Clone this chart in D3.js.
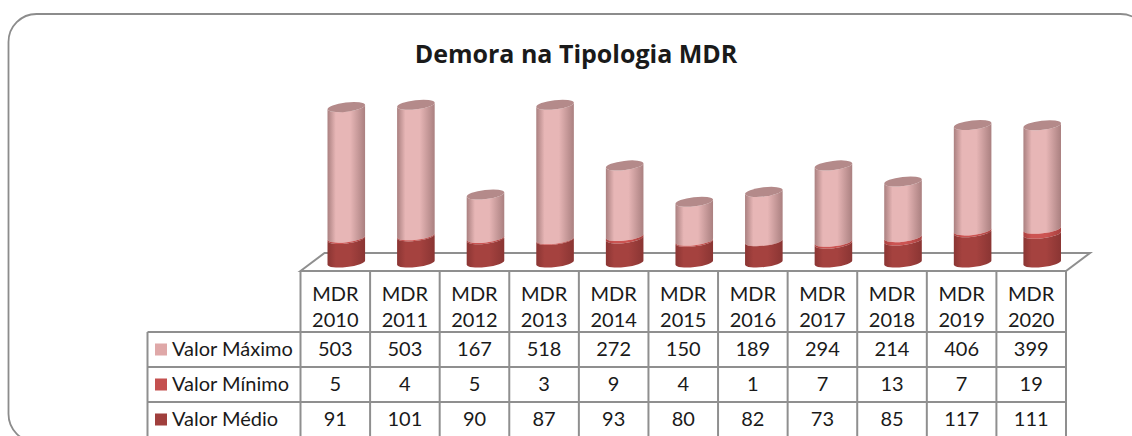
<!DOCTYPE html>
<html><head><meta charset="utf-8">
<script src="https://cdn.jsdelivr.net/npm/d3@7"></script>
<style>html,body{margin:0;padding:0;background:#fff;overflow:hidden}svg{display:block}text{font-family:Lato,"Open Sans",sans-serif;fill:#1a1a1a}</style>
</head><body><svg id="c" width="1132" height="436"></svg>
<script>
const categories=["MDR 2010","MDR 2011","MDR 2012","MDR 2013","MDR 2014","MDR 2015","MDR 2016","MDR 2017","MDR 2018","MDR 2019","MDR 2020"];
const valorMaximo=[503,503,167,518,272,150,189,294,214,406,399];
const valorMinimo=[5,4,5,3,9,4,1,7,13,7,19];
const valorMedio=[91,101,90,87,93,80,82,73,85,117,111];
const seriesNames=["Valor Máximo","Valor Mínimo","Valor Médio"];
const legendColors=["#dfa8a8","#c4504f","#a03f3d"];
const title="Demora na Tipologia MDR";

const svg=d3.select("#c");
// frame
svg.append("rect").attr("x",8.5).attr("y",14).attr("width",1140).attr("height",428).attr("rx",28).attr("ry",28)
  .attr("fill","none").attr("stroke","#8c8c8c").attr("stroke-width",1.8);
svg.append("text").attr("x",576).attr("y",63).attr("text-anchor","middle").attr("font-size",25).attr("font-weight",700).attr("fill","#111")
  .style("font-family","'Open Sans',sans-serif").text(title);

const x=d3.scaleBand().domain(categories).range([300.5,1066]);
const y=d3.scaleLinear().domain([0,700]).range([262.5,262.5-700*0.2595]);
const rowY=d3.scaleBand().domain(seriesNames).range([332,437]);
const grid="#8f8f8f";
const g=svg.append("g");
// floor
const fx0=300.5,fx1=1066,fy0=271,fdx=24,fdy=18,depthShift=11;
g.append("path").attr("d",`M${fx0},${fy0}L${fx0+fdx},${fy0-fdy}H${fx1+fdx}L${fx1},${fy0}Z`).attr("fill","#fff").attr("stroke",grid).attr("stroke-width",2);

// gradients
const defs=svg.append("defs");
function grad(id,edge,mid){
  const gr=defs.append("linearGradient").attr("id",id);
  [[0,edge],[0.22,mid],[0.6,mid],[1,edge]].forEach(s=>gr.append("stop").attr("offset",s[0]).attr("stop-color",s[1]));
}
grad("gMax","#aa8080","#e7b6b6");
grad("gMin","#a8403f","#cc5452");
grad("gMed","#8a3533","#a5423f");

const r=x.bandwidth()*0.27, dy=2.2, rx=Math.hypot(r,dy), ry=4.6, rot=Math.atan2(-dy,r)*180/Math.PI;
function seg(cx,yb,yt){
  return `M${cx-r},${yb+dy}L${cx-r},${yt+dy}A${rx},${ry} ${rot} 0 0 ${cx+r},${yt-dy}L${cx+r},${yb-dy}A${rx},${ry} ${rot} 0 1 ${cx-r},${yb+dy}Z`;
}
categories.forEach((c,i)=>{
  const cx=x(c)+x.bandwidth()/2+depthShift;
  const a=valorMedio[i],b=a+valorMinimo[i],t=b+valorMaximo[i];
  const bar=g.append("g");
  bar.append("path").attr("d",seg(cx,y(b),y(t))).attr("fill","url(#gMax)");
  bar.append("path").attr("d",seg(cx,y(a),y(b))).attr("fill","url(#gMin)");
  bar.append("path").attr("d",seg(cx,y(0),y(a))).attr("fill","url(#gMed)");
  bar.append("ellipse").attr("rx",rx).attr("ry",ry).attr("fill","#b48a8a")
    .attr("transform",`translate(${cx},${y(t)}) rotate(${rot})`);
});

// table
const tl=147.5, rows=[valorMaximo,valorMinimo,valorMedio];
const t=svg.append("g").attr("stroke",grid).attr("stroke-width",2);
x.domain().concat([null]).forEach(c=>{
  const px=c===null?x.range()[1]:x(c);
  t.append("line").attr("x1",px).attr("x2",px).attr("y1",fy0).attr("y2",436);
});
t.append("line").attr("x1",tl).attr("x2",tl).attr("y1",rowY(seriesNames[0])).attr("y2",436);
seriesNames.forEach(s=>t.append("line").attr("x1",tl).attr("x2",x.range()[1]).attr("y1",rowY(s)).attr("y2",rowY(s)));

const fs=20;
categories.forEach((c,i)=>{
  const cx=x(c)+x.bandwidth()/2, parts=c.split(" ");
  parts.forEach((p,k)=>svg.append("text").attr("x",cx).attr("y",301+k*26).attr("text-anchor","middle").attr("font-size",fs).text(p));
  rows.forEach((vals,j)=>svg.append("text").attr("x",cx).attr("y",rowY(seriesNames[j])+rowY.bandwidth()/2+6).attr("text-anchor","middle").attr("font-size",fs).text(vals[i]));
});
seriesNames.forEach((s,j)=>{
  const cy=rowY(s)+rowY.bandwidth()/2;
  svg.append("rect").attr("x",155).attr("y",cy-6).attr("width",12).attr("height",12).attr("fill",legendColors[j]);
  svg.append("text").attr("x",172).attr("y",cy+6).attr("font-size",fs).text(s);
});
</script></body></html>
